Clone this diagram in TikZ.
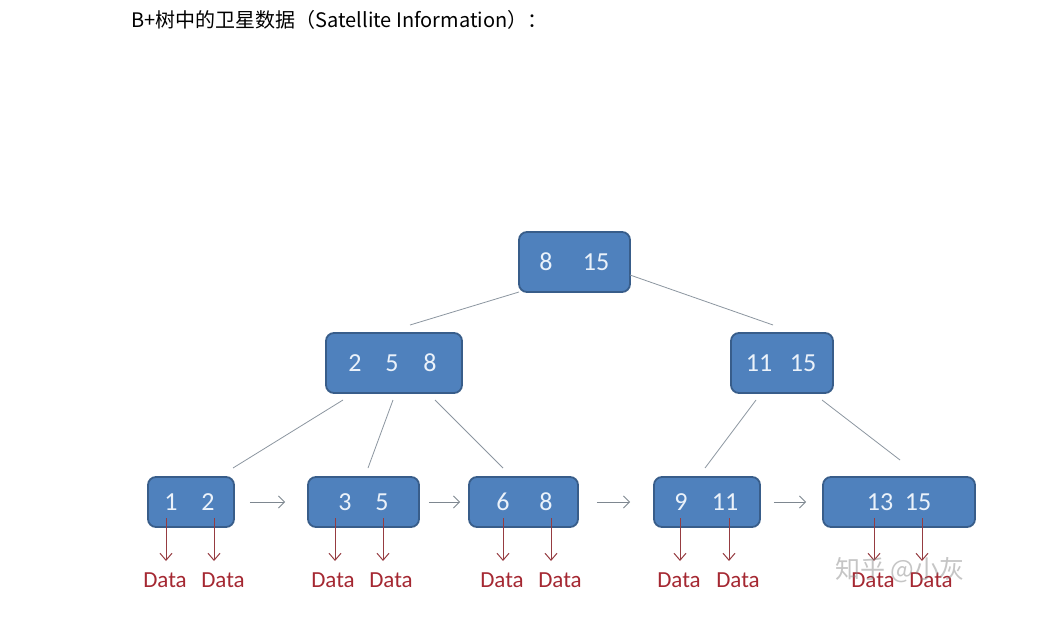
\documentclass[tikz,border=0pt]{standalone}
\usepackage{fontspec}
\setmainfont{Carlito}
\newfontfamily\cjk{Noto Sans CJK SC}
\usetikzlibrary{arrows.meta}
\definecolor{boxfill}{RGB}{79,129,189}
\definecolor{boxline}{RGB}{56,93,138}
\definecolor{numcol}{RGB}{235,242,250}
\definecolor{datacol}{RGB}{165,40,50}
\definecolor{arrcol}{RGB}{150,60,65}
\definecolor{linecol}{RGB}{140,150,160}
\tikzset{
  keybox/.style={draw=boxline, fill=boxfill, line width=1.8pt, rounded corners=8pt, inner sep=0pt},
  num/.style={text=numcol, font=\fontsize{26}{28}\selectfont, inner sep=0pt, anchor=center},
  datalbl/.style={text=datacol, font=\fontsize{23}{26}\selectfont, inner sep=0pt, anchor=center},
  treeline/.style={draw=linecol, line width=0.8pt},
  nextarr/.style={draw=linecol!90!black, line width=0.9pt, -{Straight Barb[length=6pt,width=12pt]}},
  dataarr/.style={draw=arrcol, line width=1pt, -{Straight Barb[length=7pt,width=12pt]}},
}
\begin{document}
\begin{tikzpicture}[x=1pt,y=-1pt]
\useasboundingbox (0,0) rectangle (1056,644);
\fill[white] (0,0) rectangle (1056,644);

% title
\node[anchor=west, inner sep=0pt, font=\cjk\fontsize{20}{24}\selectfont] (title) at (131,20) {B+树中的卫星数据（Satellite Information）：};

% boxes
\node[keybox, minimum width=111pt, minimum height=60pt] (root) at (574.5,262) {};
\node[keybox, minimum width=136pt, minimum height=60pt] (ml) at (394,363) {};
\node[keybox, minimum width=102pt, minimum height=60pt] (mr) at (782,363) {};
\node[keybox, minimum width=86pt, minimum height=50pt] (l1) at (191,502) {};
\node[keybox, minimum width=111pt, minimum height=50pt] (l2) at (363.5,502) {};
\node[keybox, minimum width=109pt, minimum height=50pt] (l3) at (523.5,502) {};
\node[keybox, minimum width=106pt, minimum height=50pt] (l4) at (707,502) {};
\node[keybox, minimum width=152pt, minimum height=50pt] (l5) at (899,502) {};

% numbers
\node[num] (r8) at (546,262) {8};
\node[num] (r15) at (596,262) {15};
\node[num] (ml2) at (355,363) {2};
\node[num] (ml5) at (392,363) {5};
\node[num] (ml8) at (430,363) {8};
\node[num] (mr11) at (759,363) {11};
\node[num] (mr15) at (803,363) {15};
\node[num] (a1) at (171,502) {1};
\node[num] (a2) at (208,502) {2};
\node[num] (b3) at (345,502) {3};
\node[num] (b5) at (382,502) {5};
\node[num] (c6) at (503,502) {6};
\node[num] (c8) at (546,502) {8};
\node[num] (d9) at (681,502) {9};
\node[num] (d11) at (725,502) {11};
\node[num] (e13) at (880,502) {13};
\node[num] (e15) at (918,502) {15};

% tree lines
\coordinate (t1s) at (519,292); \coordinate (t1e) at (410,325);
\coordinate (t2s) at (630,275); \coordinate (t2e) at (773,325);
\coordinate (t3s) at (343,400); \coordinate (t3e) at (233,468);
\coordinate (t4s) at (393,400); \coordinate (t4e) at (368,468);
\coordinate (t5s) at (435,400); \coordinate (t5e) at (503,468);
\coordinate (t6s) at (756,400); \coordinate (t6e) at (705,468);
\coordinate (t7s) at (822,400); \coordinate (t7e) at (900,460);
\foreach \i in {1,...,7} { \draw[treeline] (t\i s) -- (t\i e); }

% next pointers
\draw[nextarr] ([xshift=15pt]l1.east) -- ([xshift=-22pt]l2.west);
\draw[nextarr] ([xshift=9pt]l2.east) -- ([xshift=-8pt]l3.west);
\draw[nextarr] ([xshift=18pt]l3.east) -- ([xshift=-23pt]l4.west);
\draw[nextarr] ([xshift=13pt]l4.east) -- ([xshift=-16pt]l5.west);

% data labels
\node[datalbl] (da1) at (165,580) {Data};
\node[datalbl] (da2) at (223,580) {Data};
\node[datalbl] (db1) at (333,580) {Data};
\node[datalbl] (db2) at (391,580) {Data};
\node[datalbl] (dc1) at (502,580) {Data};
\node[datalbl] (dc2) at (560,580) {Data};
\node[datalbl] (dd1) at (679,580) {Data};
\node[datalbl] (dd2) at (738,580) {Data};
\node[datalbl] (de1) at (873,580) {Data};
\node[datalbl] (de2) at (931,580) {Data};

% data arrows
\foreach \x/\n in {166/a1,214/a2,335/b1,383/b2,503/c1,551/c2,680/d1,729/d2,874/e1,922/e2} {
  \coordinate (s\n) at (\x,518);
  \coordinate (e\n) at (\x,561);
  \draw[dataarr] (s\n) -- (e\n);
}

% watermark
\node[anchor=west, inner sep=0pt, text=gray, opacity=0.45, font=\cjk\fontsize{25}{28}\selectfont] (wm) at (835,570) {知乎 @小灰};
\end{tikzpicture}
\end{document}
